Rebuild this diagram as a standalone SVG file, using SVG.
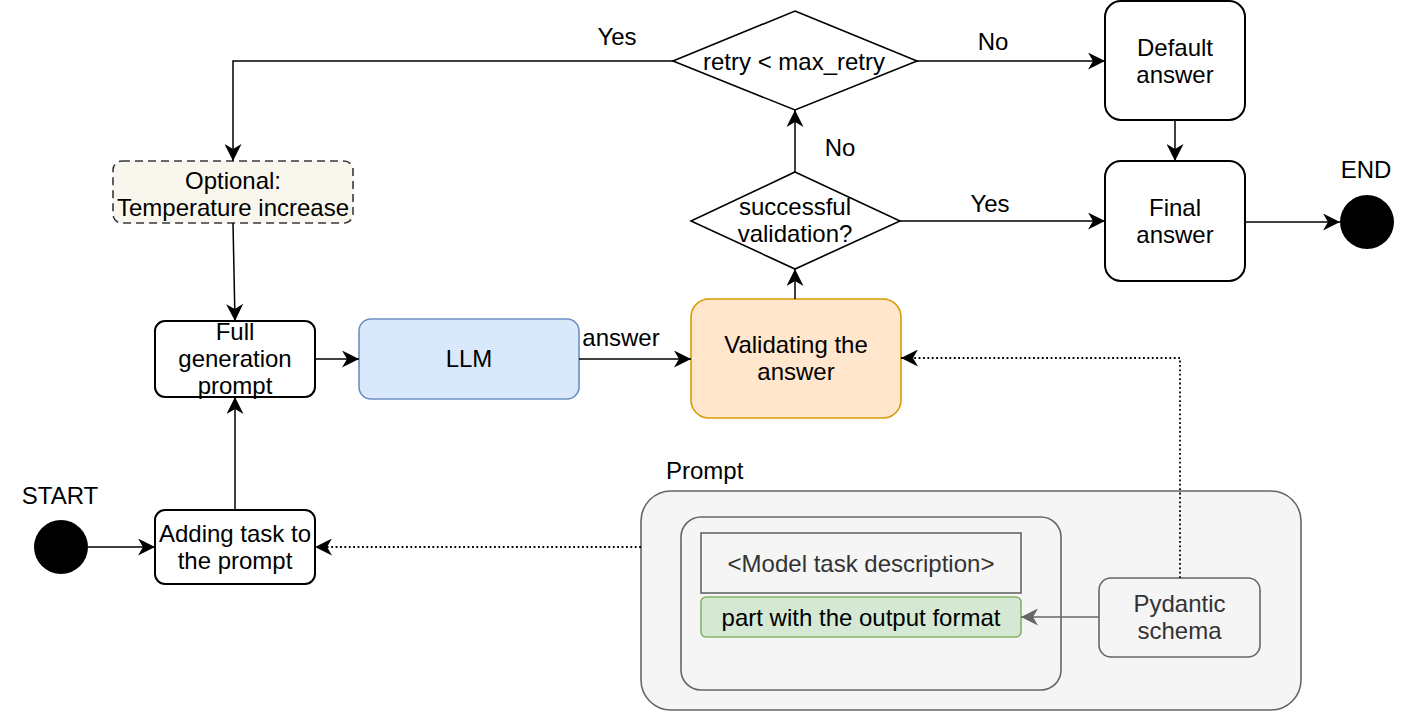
<svg xmlns="http://www.w3.org/2000/svg" width="1426" height="712" viewBox="0 0 1426 712">
<defs>
<style>
text{font-family:"Liberation Sans",Arial,Helvetica,sans-serif;font-size:24px;fill:#000;text-anchor:middle}
.g{fill:#333}
.l{text-anchor:start}
.box{fill:#fff;stroke:#000;stroke-width:2}
.dia{fill:#fff;stroke:#000;stroke-width:1.6}
.ln{fill:none;stroke:#000;stroke-width:1.5}
.dot{fill:none;stroke:#000;stroke-width:1.8;stroke-dasharray:1.8 2.6}
.gl{fill:none;stroke:#666;stroke-width:1.6}
</style>
<marker id="a" markerUnits="userSpaceOnUse" markerWidth="17" markerHeight="17" refX="17" refY="8.5" orient="auto" viewBox="0 0 17 17">
<path d="M0,0 L17,8.5 L0,17 L5,8.5 Z" fill="#000"/>
</marker>
<marker id="ag" markerUnits="userSpaceOnUse" markerWidth="17" markerHeight="17" refX="17" refY="8.5" orient="auto" viewBox="0 0 17 17">
<path d="M0,0 L17,8.5 L0,17 L5,8.5 Z" fill="#666"/>
</marker>
</defs>
<rect width="1426" height="712" fill="#fff"/>

<g id="prompt-container">
<rect x="641" y="491" width="660" height="219" rx="30" fill="#f5f5f5" stroke="#666" stroke-width="1.6"/>
<text class="l" x="666" y="479">Prompt</text>
</g>
<g id="prompt-inner">
<rect x="681" y="517" width="380" height="173" rx="20" fill="#f5f5f5" stroke="#666" stroke-width="1.6"/>
</g>
<g id="model-task">
<rect x="701" y="533" width="320" height="60" fill="#f5f5f5" stroke="#666" stroke-width="1.6"/>
<text class="g" x="861" y="572">&lt;Model task description&gt;</text>
</g>
<g id="output-format">
<rect x="701" y="597" width="320" height="40" rx="5" fill="#d5e8d4" stroke="#82b366" stroke-width="1.6"/>
<text x="861" y="626">part with the output format</text>
</g>
<g id="pydantic">
<rect x="1099" y="578" width="161" height="79" rx="12" fill="#f5f5f5" stroke="#666" stroke-width="1.6"/>
<text class="g" x="1179.5" y="612">Pydantic</text>
<text class="g" x="1179.5" y="639">schema</text>
</g>

<g id="start">
<circle cx="61" cy="547" r="27" fill="#000"/>
<text x="60" y="504">START</text>
</g>
<g id="adding-task">
<rect class="box" x="155" y="510" width="160" height="74" rx="10"/>
<text x="235" y="542">Adding task to</text>
<text x="235" y="569">the prompt</text>
</g>
<g id="full-prompt">
<rect class="box" x="155" y="321" width="160" height="76" rx="10"/>
<text x="235" y="340">Full</text>
<text x="235" y="367">generation</text>
<text x="235" y="394">prompt</text>
</g>
<g id="optional">
<rect x="113" y="161" width="240" height="62" rx="9" fill="#f9f7ed" stroke="#36393d" stroke-width="1.6" stroke-dasharray="8 5"/>
<text x="233" y="189">Optional:</text>
<text x="233" y="216">Temperature increase</text>
</g>
<g id="llm">
<rect x="359" y="319" width="220" height="80" rx="12" fill="#dae8fc" stroke="#6c8ebf" stroke-width="1.6"/>
<text x="469" y="367">LLM</text>
</g>
<g id="validating">
<rect x="691" y="299" width="210" height="119" rx="18" fill="#ffe6cc" stroke="#d79b00" stroke-width="1.6"/>
<text x="796" y="353">Validating the</text>
<text x="796" y="380">answer</text>
</g>
<g id="successful">
<polygon class="dia" points="795,172 900,221 795,269 691,221"/>
<text x="795" y="215">successful</text>
<text x="795" y="242">validation?</text>
</g>
<g id="retry">
<polygon class="dia" points="795,11 917,61 795,110 673,61"/>
<text x="794" y="70">retry &lt; max_retry</text>
</g>
<g id="default-answer">
<rect class="box" x="1105" y="1" width="140" height="119" rx="16"/>
<text x="1175" y="56">Default</text>
<text x="1175" y="83">answer</text>
</g>
<g id="final-answer">
<rect class="box" x="1105" y="161" width="140" height="120" rx="16"/>
<text x="1175" y="216">Final</text>
<text x="1175" y="243">answer</text>
</g>
<g id="end">
<circle cx="1367" cy="222" r="27" fill="#000"/>
<text x="1366" y="178">END</text>
</g>

<g id="connectors">
<path class="ln" d="M88,547 H155" marker-end="url(#a)"/>
<path class="ln" d="M235,510 V397" marker-end="url(#a)"/>
<path class="ln" d="M233,223 L235,321" marker-end="url(#a)"/>
<path class="ln" d="M315,359 H359" marker-end="url(#a)"/>
<path class="ln" d="M579,359 H691" marker-end="url(#a)"/>
<text x="621" y="346">answer</text>
<path class="ln" d="M795,299 V269" marker-end="url(#a)"/>
<path class="ln" d="M795,172 V110" marker-end="url(#a)"/>
<text x="840" y="156">No</text>
<path class="ln" d="M900,221 H1105" marker-end="url(#a)"/>
<text x="990" y="212">Yes</text>
<path class="ln" d="M917,61 H1105" marker-end="url(#a)"/>
<text x="993" y="50">No</text>
<path class="ln" d="M673,61 H233 V161" marker-end="url(#a)"/>
<text x="617" y="45">Yes</text>
<path class="ln" d="M1175,120 V161" marker-end="url(#a)"/>
<path class="ln" d="M1245,222 H1340" marker-end="url(#a)"/>
<path class="dot" d="M641,547 H315" marker-end="url(#a)"/>
<path class="dot" d="M1180,578 V358 H901" marker-end="url(#a)"/>
<path class="gl" d="M1099,617 H1021" marker-end="url(#ag)"/>
</g>
</svg>
